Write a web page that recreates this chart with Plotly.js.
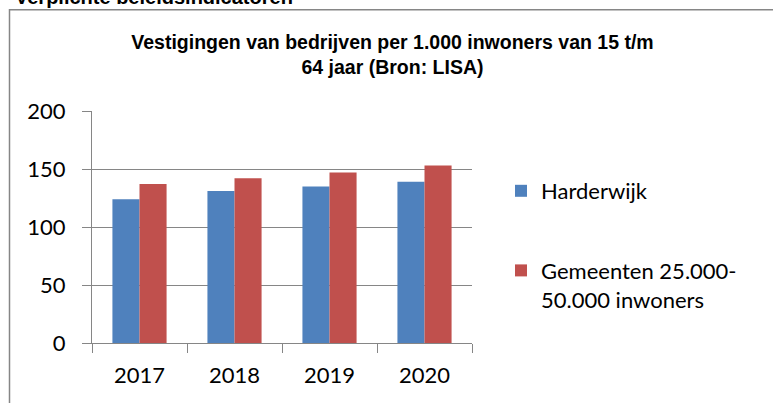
<!DOCTYPE html>
<html>
<head>
<meta charset="utf-8">
<script src="https://cdn.plot.ly/plotly-3.0.1.min.js"></script>
<style>
html,body{margin:0;padding:0;background:#fff;overflow:hidden;}
#chart{width:773px;height:403px;}
</style>
</head>
<body>
<div id="chart"></div>
<script>
const years = ['2017', '2018', '2019', '2020'];
const harderwijk = [124, 131, 135, 139];
const gemeenten = [137, 142, 147, 153];
const seriesNames = ['Harderwijk', 'Gemeenten 25.000-<br>50.000 inwoners'];
const yTicks = [0, 50, 100, 150, 200];
const titleText = 'Vestigingen van bedrijven per 1.000 inwoners van 15 t/m<br>64 jaar (Bron: LISA)';
const heading = 'Verplichte beleidsindicatoren';

const W = 773, H = 403;
const L = 92, R = 472, T = 110.7, B = 342.7;
const pw = R - L, ph = B - T;
const px = x => (x - L) / pw;
const py = y => (B - y) / ph;

const traces = [
  {type: 'bar', x: years, y: harderwijk, name: seriesNames[0], legendgroup: 'a',
   marker: {color: '#4F81BD'}},
  {type: 'bar', x: years, y: gemeenten, name: seriesNames[1], legendgroup: 'b',
   marker: {color: '#C0504D'}}
];

const layout = {
  width: W, height: H,
  margin: {l: L, r: W - R, t: T, b: H - B, pad: 0},
  paper_bgcolor: '#fff', plot_bgcolor: '#fff',
  barmode: 'group', bargap: 0.43, bargroupgap: 0,
  font: {family: 'Lato, "Open Sans", sans-serif', color: '#000', size: 22},
  title: {
    text: titleText,
    font: {family: '"Liberation Sans", Arial, sans-serif', size: 19.5, weight: 'bold', color: '#000'},
    xref: 'container', x: 392.5 / W, xanchor: 'center',
    yref: 'container', y: 1 - 48.5 / H, yanchor: 'middle'
  },
  xaxis: {
    type: 'category', tickson: 'boundaries', ticks: 'outside', ticklen: 9, tickwidth: 1,
    tickcolor: '#868686', showline: true, linecolor: '#868686', linewidth: 1,
    showgrid: false, zeroline: false, ticklabelstandoff: 13,
    tickfont: {size: 22, color: '#000'}
  },
  yaxis: {
    range: [0, 200], tickvals: yTicks, ticks: 'outside', ticklen: 9, tickwidth: 1,
    tickcolor: '#868686', showline: true, linecolor: '#868686', linewidth: 1,
    showgrid: true, gridcolor: '#868686', gridwidth: 1, zeroline: false,
    ticklabelstandoff: 12, tickfont: {size: 22, color: '#000'}
  },
  showlegend: true,
  legend: {
    xref: 'container', yref: 'container', x: 501 / W, xanchor: 'left',
    y: 1 - 170 / H, yanchor: 'top', valign: 'top',
    tracegroupgap: 48, traceorder: 'grouped',
    font: {size: 22, color: '#000'}, bgcolor: 'rgba(0,0,0,0)', borderwidth: 0
  },
  annotations: [
    {text: heading, xref: 'paper', yref: 'paper', x: px(13), y: py(-3),
     xanchor: 'left', yanchor: 'middle', showarrow: false,
     font: {family: '"Liberation Sans", Arial, sans-serif', size: 20, weight: 'bold', color: '#000'}}
  ],
  shapes: [
    {type: 'rect', xref: 'paper', yref: 'paper', x0: px(9.5), x1: px(820), y0: py(440), y1: py(9.5),
     line: {color: '#868686', width: 1.5}, fillcolor: 'rgba(0,0,0,0)', layer: 'below'}
  ]
};

Plotly.newPlot('chart', traces, layout, {displayModeBar: false, staticPlot: true});
</script>
</body>
</html>
